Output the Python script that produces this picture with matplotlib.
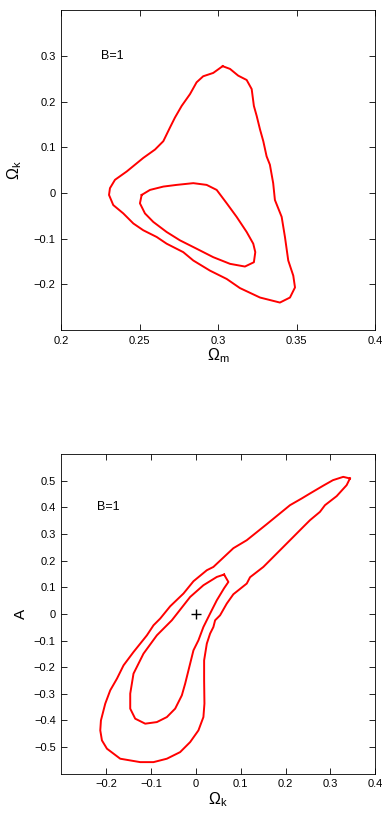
import matplotlib
matplotlib.use('Agg')
from matplotlib import pyplot as plt
import numpy as np

plt.rcParams['font.family'] = ['Liberation Sans', 'DejaVu Sans']
plt.rcParams['mathtext.fontset'] = 'custom'
plt.rcParams['mathtext.rm'] = 'Liberation Sans'
plt.rcParams['mathtext.default'] = 'regular'

# top panel: Omega_m vs Omega_k contours
om_outer = [0.3028, 0.2968, 0.2904, 0.2862, 0.2820, 0.2767, 0.2724, 0.2692, 0.2650, 0.2597,
            0.2522, 0.2417, 0.2342, 0.2310, 0.2304, 0.2331, 0.2395, 0.2459, 0.2522, 0.2608,
            0.2671, 0.2777, 0.2841, 0.2947, 0.3054, 0.3138, 0.3266, 0.3393, 0.3457, 0.3489,
            0.3478, 0.3446, 0.3425, 0.3404, 0.3361, 0.3350, 0.3329, 0.3308, 0.3287, 0.3266,
            0.3245, 0.3227, 0.3213, 0.3181, 0.3127, 0.3075]
ok_outer = [0.2773, 0.2625, 0.2552, 0.2420, 0.2162, 0.1904, 0.1648, 0.1428, 0.1132, 0.0949,
            0.0765, 0.0470, 0.0287, 0.0104, -0.0044, -0.0265, -0.0448, -0.0668, -0.0816, -0.0964,
            -0.1110, -0.1295, -0.1478, -0.1699, -0.1882, -0.2081, -0.2288, -0.2398, -0.2288, -0.2067,
            -0.1809, -0.1478, -0.0964, -0.0523, -0.0154, 0.0214, 0.0618, 0.0801, 0.1132, 0.1390,
            0.1683, 0.1904, 0.2272, 0.2471, 0.2566, 0.2713]
om_inner = [0.2512, 0.2501, 0.2533, 0.2586, 0.2671, 0.2756, 0.2862, 0.2968, 0.3075, 0.3170,
            0.3227, 0.3236, 0.3223, 0.3181, 0.3117, 0.3054, 0.2990, 0.2926, 0.2841, 0.2735,
            0.2650, 0.2565]
ok_inner = [-0.0044, -0.0227, -0.0448, -0.0634, -0.0854, -0.1037, -0.1220, -0.1405, -0.1551, -0.1610,
            -0.1516, -0.1295, -0.1110, -0.0854, -0.0523, -0.0227, 0.0066, 0.0176, 0.0214, 0.0176,
            0.0139, 0.0066]

# bottom panel: Omega_k vs A contours
ok2_outer = [0.3437, 0.3363, 0.3140, 0.2880, 0.2768, 0.2546, 0.2396, 0.2174, 0.1878, 0.1506,
             0.1209, 0.1136, 0.0837, 0.0690, 0.0541, 0.0430, 0.0392, 0.0318, 0.0245, 0.0185,
             0.0185, 0.0192, 0.0169, 0.0058, -0.0127, -0.0350, -0.0646, -0.0944, -0.1241, -0.1686,
             -0.1982, -0.2094, -0.2131, -0.2116, -0.2020, -0.1909, -0.1759, -0.1612, -0.1390, -0.1091,
             -0.0944, -0.0795, -0.0572, -0.0276, -0.0053, 0.0245, 0.0392, 0.0837, 0.1136, 0.1581,
             0.2100, 0.2361, 0.2546, 0.2842, 0.3058, 0.3287]
a_outer = [0.5090, 0.4838, 0.4425, 0.4086, 0.3835, 0.3523, 0.3271, 0.2895, 0.2395, 0.1767,
           0.1380, 0.1143, 0.0741, 0.0391, -0.0049, -0.0237, -0.0489, -0.0737, -0.1113, -0.1741,
           -0.2492, -0.3368, -0.3872, -0.4372, -0.4812, -0.5188, -0.5436, -0.5564, -0.5564, -0.5436,
           -0.5060, -0.4748, -0.4372, -0.3996, -0.3368, -0.2868, -0.2429, -0.1929, -0.1429, -0.0801,
           -0.0425, -0.0173, 0.0289, 0.0767, 0.1229, 0.1643, 0.1767, 0.2470, 0.2771, 0.3372,
           0.4086, 0.4338, 0.4526, 0.4820, 0.5026, 0.5150]
ok2_inner = [0.0630, 0.0726, 0.0630, 0.0468, 0.0318, 0.0169, 0.0058, -0.0053, -0.0127, -0.0238,
             -0.0312, -0.0461, -0.0646, -0.0869, -0.1129, -0.1352, -0.1463, -0.1463, -0.1390, -0.1167,
             -0.0869, -0.0535, -0.0127, 0.0169, 0.0468]
a_inner = [0.1481, 0.1203, 0.0966, 0.0515, 0.0015, -0.0489, -0.0989, -0.1365, -0.1865, -0.2617,
           -0.3056, -0.3556, -0.3872, -0.4060, -0.4120, -0.3932, -0.3556, -0.2992, -0.2241, -0.1489,
           -0.0801, -0.0237, 0.0639, 0.1079, 0.1391]

best_fit = (0.0, 0.0)


def closed(x, y):
    return np.append(x, x[0]), np.append(y, y[0])


def style(ax):
    ax.tick_params(direction='in', length=4, width=0.6, top=True, right=True,
                   labelsize=8, pad=4)
    for s in ax.spines.values():
        s.set_linewidth(0.6)


fig = plt.figure(figsize=(3.88, 8.13), dpi=100)

ax1 = fig.add_axes([0.158, 0.594, 0.809, 0.3936])
ax1.plot(*closed(om_outer, ok_outer), color='red', lw=1.4)
ax1.plot(*closed(om_inner, ok_inner), color='red', lw=1.4)
ax1.set_xlim(0.2, 0.4)
ax1.set_ylim(-0.3, 0.4)
ax1.set_xticks([0.2, 0.25, 0.3, 0.35, 0.4])
ax1.set_xticklabels(['0.2', '0.25', '0.3', '0.35', '0.4'])
ax1.set_yticks([-0.2, -0.1, 0, 0.1, 0.2, 0.3])
ax1.set_yticklabels(['\u22120.2', '\u22120.1', '0', '0.1', '0.2', '0.3'])
ax1.text(0.225, 0.3, 'B=1', fontsize=9, va='center', ha='left')
ax1.set_xlabel(r'$\Omega_m$', fontsize=11.5, labelpad=0.5)
ax1.set_ylabel(r'$\Omega_k$', fontsize=11.5, labelpad=7)
style(ax1)

ax2 = fig.add_axes([0.158, 0.0483, 0.809, 0.393])
ax2.plot(*closed(ok2_outer, a_outer), color='red', lw=1.4)
ax2.plot(*closed(ok2_inner, a_inner), color='red', lw=1.4)
ax2.plot(best_fit[0], best_fit[1], '+', color='black', markersize=7, mew=1)
ax2.set_xlim(-0.3, 0.4)
ax2.set_ylim(-0.6, 0.6)
ax2.set_xticks([-0.2, -0.1, 0, 0.1, 0.2, 0.3, 0.4])
ax2.set_xticklabels(['\u22120.2', '\u22120.1', '0', '0.1', '0.2', '0.3', '0.4'])
ax2.set_yticks([-0.5, -0.4, -0.3, -0.2, -0.1, 0, 0.1, 0.2, 0.3, 0.4, 0.5])
ax2.set_yticklabels(['\u22120.5', '\u22120.4', '\u22120.3', '\u22120.2', '\u22120.1', '0',
                     '0.1', '0.2', '0.3', '0.4', '0.5'])
ax2.text(-0.22, 0.4, 'B=1', fontsize=9, va='center', ha='left')
ax2.set_xlabel(r'$\Omega_k$', fontsize=11.5, labelpad=0.5)
ax2.set_ylabel('A', fontsize=11, labelpad=4)
style(ax2)

fig.savefig('out.png', dpi=100)
